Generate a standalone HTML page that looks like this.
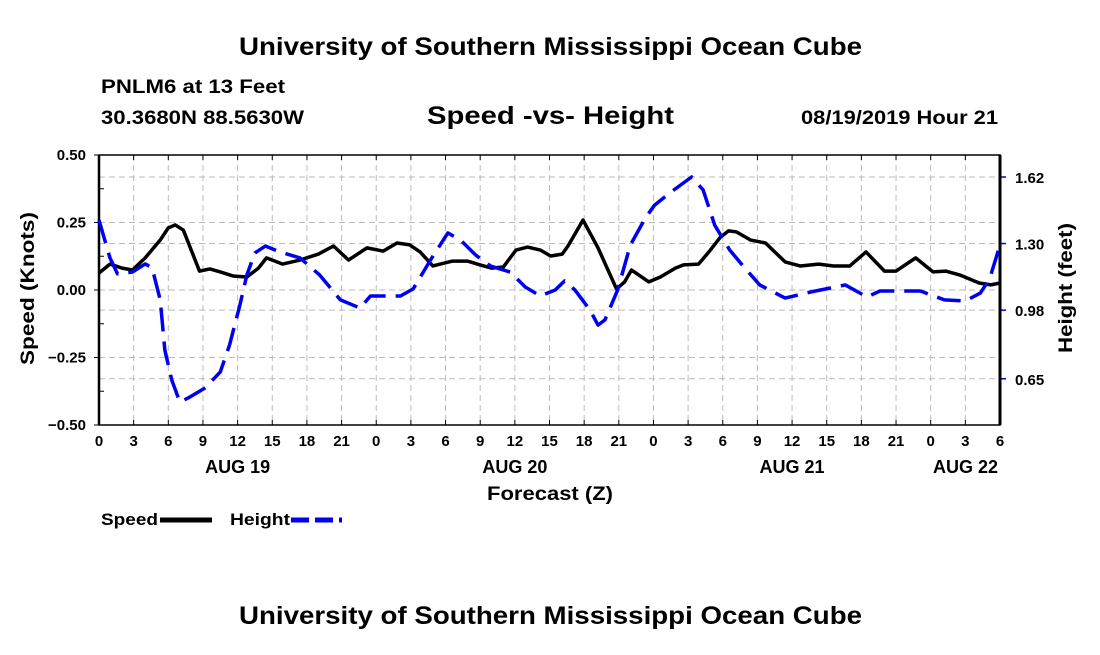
<!DOCTYPE html>
<html><head><meta charset="utf-8"><style>
body{margin:0;background:#fff;}
svg text{font-family:"Liberation Sans",Arial,sans-serif;font-weight:bold;fill:#000;}
</style></head><body>
<svg id="chart" width="1100" height="650" viewBox="0 0 1100 650" xmlns="http://www.w3.org/2000/svg">
<rect width="1100" height="650" fill="#fff"/>
<text x="239" y="55" font-size="25" textLength="623" lengthAdjust="spacingAndGlyphs">University of Southern Mississippi Ocean Cube</text>
<text x="101" y="93" font-size="19" textLength="184" lengthAdjust="spacingAndGlyphs">PNLM6 at 13 Feet</text>
<text x="101" y="124" font-size="19" textLength="203" lengthAdjust="spacingAndGlyphs">30.3680N 88.5630W</text>
<text x="427" y="124" font-size="25" textLength="247" lengthAdjust="spacingAndGlyphs">Speed -vs- Height</text>
<text x="801" y="124" font-size="19" textLength="197" lengthAdjust="spacingAndGlyphs">08/19/2019 Hour 21</text>
<text x="239" y="624" font-size="25" textLength="623" lengthAdjust="spacingAndGlyphs">University of Southern Mississippi Ocean Cube</text>
<g id="grid"></g>
<g id="axes"></g>
<g id="series"></g>
<text x="487" y="500" font-size="19" textLength="126" lengthAdjust="spacingAndGlyphs">Forecast (Z)</text>
<text transform="translate(34,365) rotate(-90)" font-size="19" textLength="153" lengthAdjust="spacingAndGlyphs">Speed (Knots)</text>
<text transform="translate(1072,353) rotate(-90)" font-size="19" textLength="130" lengthAdjust="spacingAndGlyphs">Height (feet)</text>
<g>
<text x="101" y="525" font-size="17" textLength="57" lengthAdjust="spacingAndGlyphs">Speed</text>
<line x1="160" y1="520" x2="212" y2="520" stroke="#000" stroke-width="5"/>
<text x="230" y="525" font-size="17" textLength="60" lengthAdjust="spacingAndGlyphs">Height</text>
<line x1="291" y1="520" x2="342" y2="520" stroke="#0000ee" stroke-width="5" stroke-dasharray="18,6"/>
</g>
</svg>
<script>
const speedHours=[0,0.95,2,2.9,4,5.3,6,6.6,7.3,8.7,9.6,10.5,11.6,12.8,13.8,14.5,15.9,17.4,19,20.3,21.6,23.2,24.6,25.8,26.9,27.8,28.9,30.6,31.9,33,34,35,36.1,37.1,38.2,39.1,40.1,40.6,41.9,43.2,44.8,45.5,46.1,47.6,48.6,49.9,50.6,51.9,52.8,53.8,54.5,55.2,56.4,57.7,59.4,60.7,62.3,63.6,65,66.4,68,69,70.7,72.2,73.3,74.5,76.2,77.2,78];
const speedValues=[0.063,0.096,0.081,0.074,0.119,0.185,0.230,0.241,0.222,0.070,0.078,0.067,0.052,0.048,0.081,0.119,0.096,0.111,0.133,0.163,0.111,0.156,0.144,0.174,0.167,0.141,0.089,0.107,0.107,0.093,0.081,0.085,0.148,0.159,0.148,0.126,0.133,0.163,0.259,0.156,0.004,0.030,0.074,0.030,0.048,0.081,0.093,0.096,0.141,0.196,0.219,0.215,0.185,0.174,0.104,0.089,0.096,0.089,0.089,0.141,0.070,0.070,0.119,0.067,0.070,0.056,0.026,0.019,0.026];
const heightHours=[0,0.95,1.6,2.9,4,4.6,5.3,5.7,6.3,7,7.7,9.2,10.5,11.3,12.2,12.8,13.5,14.4,15.7,17.4,19.1,20.9,22.6,23.5,26.1,27.2,28.7,30.2,31.3,32.6,33.9,35.6,36.9,38.2,39.5,40.3,41.2,42.5,43.2,43.8,44.9,46,47.3,48.1,49.4,51.3,52.3,53.3,54.6,55.9,57.2,59.4,61.6,64.6,66.5,67.6,71.1,73.2,75,76.3,77.1,78];
const heightValues=[1.413,1.231,1.154,1.163,1.202,1.183,1.029,0.788,0.644,0.538,0.557,0.606,0.683,0.812,1.005,1.149,1.255,1.288,1.259,1.231,1.149,1.029,0.990,1.048,1.048,1.082,1.221,1.351,1.317,1.245,1.192,1.163,1.091,1.048,1.077,1.120,1.077,0.981,0.908,0.933,1.077,1.293,1.423,1.485,1.543,1.620,1.558,1.389,1.269,1.183,1.101,1.038,1.067,1.101,1.043,1.072,1.072,1.029,1.024,1.062,1.130,1.293];
const xTickLabels=["0","3","6","9","12","15","18","21","0","3","6","9","12","15","18","21","0","3","6","9","12","15","18","21","0","3","6"];
const dayLabels=["AUG 19","AUG 20","AUG 21","AUG 22"];
const dayHours=[12,36,60,78];
const speedTicks=[0.50,0.25,0.00,-0.25,-0.50];
const heightTicks=[1.62,1.30,0.98,0.65];

const L=99,R=1000,T=155,B=425;
const x=h=>L+(R-L)*h/78;
const yS=v=>T+(0.5-v)/1.0*(B-T);
const hMax=1.62+22/208,hMin=1.62-248/208;
const yH=v=>T+(hMax-v)/(hMax-hMin)*(B-T);
const NS="http://www.w3.org/2000/svg";
function mk(parent,tag,attrs){const e=document.createElementNS(NS,tag);for(const k in attrs)e.setAttribute(k,attrs[k]);parent.appendChild(e);return e;}
const grid=document.getElementById('grid'),axes=document.getElementById('axes'),series=document.getElementById('series');
const gs={stroke:"#bbb","stroke-width":1,"stroke-dasharray":"6,4"};
xTickLabels.forEach((t,i)=>{const px=x(i*3);
 if(i>0&&i<xTickLabels.length-1){const g=mk(grid,'line',Object.assign({x1:px,x2:px,y1:T,y2:B},gs));
 
 }
 mk(axes,'line',{x1:px,x2:px,y1:B,y2:B-5,stroke:"#000","stroke-width":1});
 mk(axes,'line',{x1:px,x2:px,y1:T,y2:T+5,stroke:"#000","stroke-width":1});
 const tx=mk(axes,'text',{x:px,y:B+21,"font-size":15,"text-anchor":"middle"});tx.textContent=t;
 
 
});
dayLabels.forEach((d,i)=>{const tx=mk(axes,'text',{x:x(dayHours[i]),y:B+48,"font-size":18,"text-anchor":i==3?"end":"middle"});
 if(i==3)tx.setAttribute('x',R-2);
 tx.textContent=d;
 
 });
speedTicks.forEach(v=>{const py=yS(v);
 if(v<0.5&&v>-0.5){const g=mk(grid,'line',Object.assign({x1:L,x2:R,y1:py,y2:py},gs));
 
 }
 mk(axes,'line',{x1:L-5,x2:L,y1:py,y2:py,stroke:"#000","stroke-width":1});
 const tx=mk(axes,'text',{x:L-13,y:py+5,"font-size":15,"text-anchor":"end"});tx.textContent=v.toFixed(2).replace('-','\u2212');
 
 });
for(let v=0.375;v>-0.5;v-=0.25){mk(axes,'line',{x1:L,x2:L+5,y1:yS(v),y2:yS(v),stroke:"#000","stroke-width":1});}
heightTicks.forEach(v=>{const py=yH(v);
 const g=mk(grid,'line',Object.assign({x1:L,x2:R,y1:py,y2:py},gs));
 
 
 mk(axes,'line',{x1:R,x2:R+6,y1:py,y2:py,stroke:"#00e","stroke-width":1.5});
 const tx=mk(axes,'text',{x:R+15,y:py+6,"font-size":15});tx.textContent=v.toFixed(2);
 
 });
mk(axes,'rect',{x:L,y:T,width:R-L,height:B-T,fill:"none",stroke:"#000","stroke-width":1.5});
mk(axes,'line',{x1:L,x2:L,y1:T,y2:B,stroke:"#000","stroke-width":2.5});
mk(axes,'line',{x1:R,x2:R,y1:T,y2:B,stroke:"#000","stroke-width":3});
const sp=mk(series,'polyline',{points:speedHours.map((h,i)=>x(h)+","+yS(speedValues[i])).join(" "),fill:"none",stroke:"#000","stroke-width":3.5,"stroke-linejoin":"round"});


const hp=mk(series,'polyline',{points:heightHours.map((h,i)=>x(h)+","+yH(heightValues[i])).join(" "),fill:"none",stroke:"#0000ee","stroke-width":3.5,"stroke-dasharray":"24,10","stroke-linejoin":"round"});


</script>
</body></html>
